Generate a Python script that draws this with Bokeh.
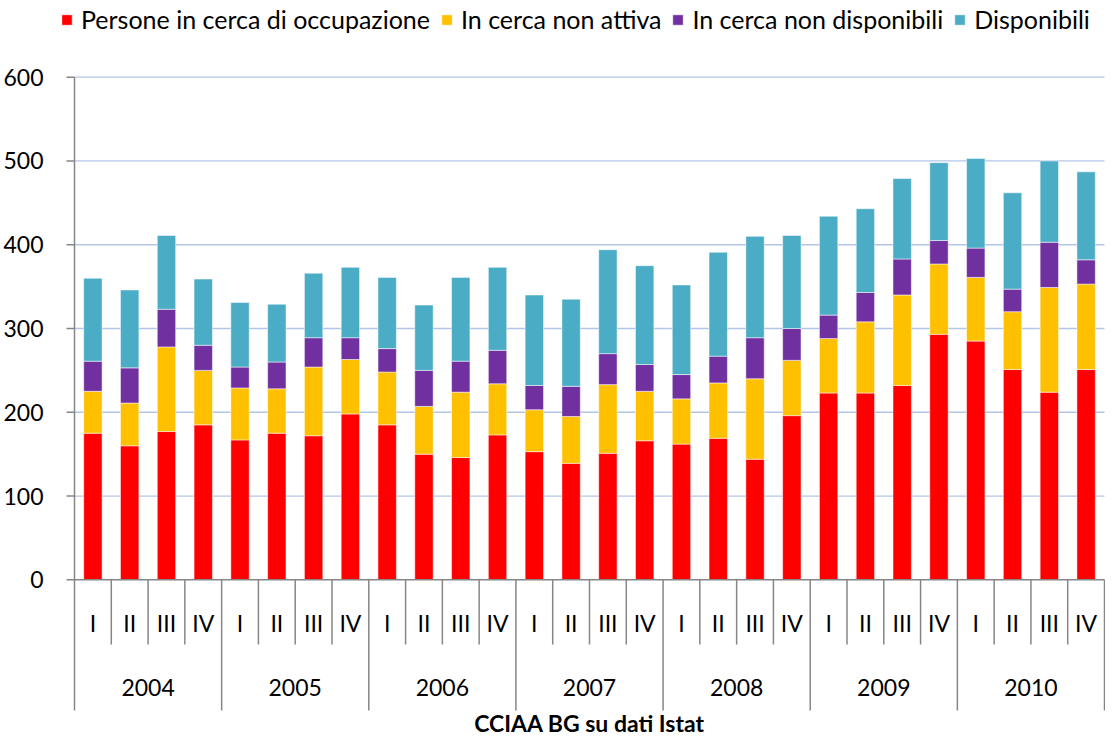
from bokeh.plotting import figure
from bokeh.models import Legend, LegendItem, ColumnDataSource, FixedTicker
from bokeh.embed import file_html
from bokeh.resources import INLINE
from bokeh.core.properties import value

# ---------------- data ----------------
years = ["2004", "2005", "2006", "2007", "2008", "2009", "2010"]
quarters = ["I", "II", "III", "IV"]
series_names = ["Persone in cerca di occupazione", "In cerca non attiva",
                "In cerca non disponibili", "Disponibili"]

occupazione = [175, 160, 177, 185, 167, 175, 172, 198, 185, 150, 146, 173,
               153, 139, 151, 166, 162, 169, 144, 196, 223, 223, 232, 293,
               285, 251, 224, 251]
non_attiva = [50, 51, 101, 65, 62, 53, 82, 65, 63, 57, 78, 61,
              50, 56, 82, 59, 54, 66, 96, 66, 65, 85, 108, 84,
              76, 69, 125, 102]
non_disponibili = [36, 42, 45, 30, 25, 32, 35, 26, 28, 43, 37, 40,
                   29, 36, 37, 32, 29, 32, 49, 38, 28, 35, 43, 28,
                   35, 27, 54, 29]
disponibili = [99, 93, 88, 79, 77, 69, 77, 84, 85, 78, 100, 99,
               108, 104, 124, 118, 107, 124, 121, 111, 118, 100, 96, 93,
               107, 115, 97, 105]

y_ticks = [0, 100, 200, 300, 400, 500, 600]
source_title = "CCIAA BG su dati Istat"

# ---------------- style / layout (pixels) ----------------
FONT = "Lato"
colors = ["#FF0000", "#FFC000", "#7030A0", "#4BACC6"]
AXIS_GRAY = "#868686"
GRID_BLUE = "#B3C6E8"

W, H = 1105, 736
FRAME_LEFT = 62           # left panel (y tick labels)
AXIS_PX = 74              # x of the value axis line
RIGHT_PX = 1104           # x of the last category boundary
TOP_PX = 76.7             # y of the top tick (600)
ZERO_PX = 579.3           # y of the zero line
AXIS_BOTTOM_PX = 710      # bottom of year separators
QSEP_BOTTOM_PX = 644      # bottom of quarter separators
QLABEL_PX = 622
YLABEL_PX = 687
TITLE_MID_PX = 722
TICK_LEN = 8

n = len(years) * len(quarters)
cat_px = (RIGHT_PX - AXIS_PX) / n
unit_px = (ZERO_PX - TOP_PX) / y_ticks[-1]

x_start = -0.5 - (AXIS_PX - FRAME_LEFT) / cat_px
x_end = x_start + (W - FRAME_LEFT) / cat_px
y_end = y_ticks[-1] + TOP_PX / unit_px
y_start = -(H - ZERO_PX) / unit_px


def py(px):
    return -(px - ZERO_PX) / unit_px


xs = list(range(n))
q_labels = [q for _ in years for q in quarters]
year_x = [i * len(quarters) + (len(quarters) - 1) / 2 for i in range(len(years))]

keys = ["occ", "att", "disp_non", "disp"]
source = ColumnDataSource(dict(x=xs, occ=occupazione, att=non_attiva,
                               disp_non=non_disponibili, disp=disponibili))

p = figure(width=W, height=H, x_range=(x_start, x_end),
           y_range=(y_start, y_end), output_backend="svg",
           toolbar_location=None, min_border_left=FRAME_LEFT,
           min_border_right=0, min_border_top=0, min_border_bottom=0)
p.outline_line_color = None
p.background_fill_color = "white"
p.xaxis.visible = False
p.xgrid.grid_line_color = None
p.ygrid.grid_line_color = None

left = -0.5
right = n - 0.5

# horizontal gridlines
grid_vals = y_ticks[1:]
p.segment(x0=[left] * len(grid_vals), x1=[right] * len(grid_vals),
          y0=grid_vals, y1=grid_vals, line_color=GRID_BLUE, line_width=1.3)

renderers = p.vbar_stack(keys, x="x", width=0.5, source=source,
                         fill_color=colors, line_color="white",
                         line_alpha=0.5, line_width=1)

# value axis: labels from the Bokeh axis, line and ticks as segments
p.yaxis.ticker = FixedTicker(ticks=y_ticks)
p.yaxis.axis_line_color = None
p.yaxis.major_tick_line_color = None
p.yaxis.minor_tick_line_color = None
p.yaxis.major_label_text_font = FONT
p.yaxis.major_label_text_font_size = "23px"
p.yaxis.major_label_text_color = "black"
p.yaxis.major_label_standoff = 13

p.segment(x0=[left], x1=[left], y0=[y_ticks[-1]], y1=[py(AXIS_BOTTOM_PX)],
          line_color=AXIS_GRAY, line_width=1.5)
tick_x0 = left - TICK_LEN / cat_px
p.segment(x0=[tick_x0] * len(y_ticks), x1=[left] * len(y_ticks),
          y0=y_ticks, y1=y_ticks, line_color=AXIS_GRAY, line_width=1.5)

# category axis
p.segment(x0=[left], x1=[right], y0=[0], y1=[0], line_color=AXIS_GRAY,
          line_width=1.5)
bounds = [i + 0.5 for i in range(n)]
q_b = [b for i, b in enumerate(bounds) if (i + 1) % len(quarters) != 0]
y_b = [b for i, b in enumerate(bounds) if (i + 1) % len(quarters) == 0]
p.segment(x0=q_b, x1=q_b, y0=[0] * len(q_b), y1=[py(QSEP_BOTTOM_PX)] * len(q_b),
          line_color=AXIS_GRAY, line_width=1.5)
p.segment(x0=y_b, x1=y_b, y0=[0] * len(y_b), y1=[py(AXIS_BOTTOM_PX)] * len(y_b),
          line_color=AXIS_GRAY, line_width=1.5)

p.text(x=xs, y=[py(QLABEL_PX)] * n, text=q_labels, text_align="center",
       text_baseline="middle", text_font=value(FONT), text_font_size="23px",
       text_color="black")
p.text(x=year_x, y=[py(YLABEL_PX)] * len(years), text=years,
       text_align="center", text_baseline="middle", text_font=value(FONT),
       text_font_size="23px", text_color="black")

# source title
p.text(x=[(left + right) / 2], y=[py(TITLE_MID_PX)], text=[source_title],
       text_align="center", text_baseline="middle", text_font=value(FONT),
       text_font_size="23px", text_font_style="bold", text_color="black")

# legend
legend = Legend(items=[LegendItem(label=s, renderers=[r])
                       for s, r in zip(series_names, renderers)],
                orientation="horizontal", location=(-2, H - 34))
legend.label_text_font = FONT
legend.label_text_font_size = "25px"
legend.label_text_color = "black"
legend.glyph_width = 13
legend.glyph_height = 13
legend.label_standoff = 8
legend.spacing = 10
legend.padding = 0
legend.margin = 0
legend.border_line_color = None
legend.background_fill_alpha = 0
p.add_layout(legend, "center")

open("out.html", "w").write(file_html(p, INLINE))
